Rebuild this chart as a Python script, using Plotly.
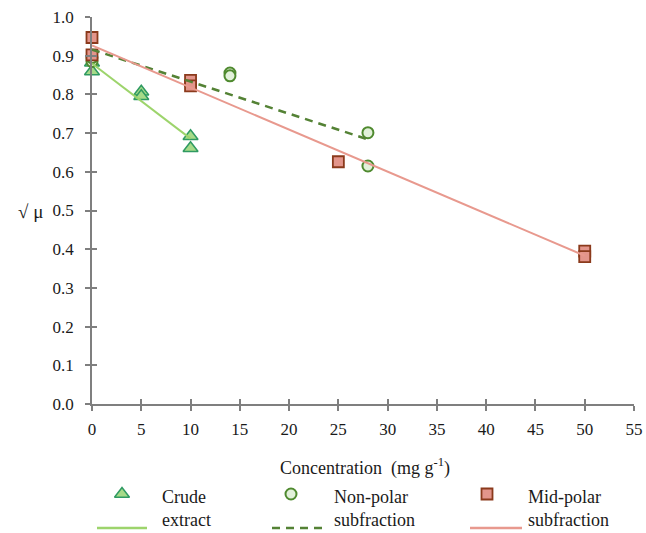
import numpy as np
import plotly.graph_objects as go

# ---- data ----
crude_x = [0, 0, 5, 5, 10, 10]
crude_y = [0.882, 0.859, 0.807, 0.795, 0.692, 0.661]
nonpolar_x = [0, 0, 14, 14, 28, 28]
nonpolar_y = [0.885, 0.895, 0.855, 0.848, 0.701, 0.615]
midpolar_x = [0, 0, 10, 10, 25, 50, 50]
midpolar_y = [0.947, 0.902, 0.836, 0.822, 0.626, 0.395, 0.381]
x_ticks = list(range(0, 56, 5))
y_ticks = [round(0.1 * i, 1) for i in range(11)]
series_names = ["Crude<br>extract", "Non-polar<br>subfraction", "Mid-polar<br>subfraction"]

W, H = 646, 533
FONT = "Liberation Serif"
TXT = "#1a1a1a"

C_CRUDE_FILL, C_CRUDE_EDGE, C_CRUDE_LINE = "#a6da88", "#2f9a62", "#9dd46c"
C_NP_FILL, C_NP_EDGE, C_NP_LINE = "#e2f1da", "#4f8a2f", "#548235"
C_MP_FILL, C_MP_EDGE, C_MP_LINE = "#e3958b", "#8b3a1c", "#e8998e"


def fit(xs, ys):
    m, b = np.polyfit(xs, ys, 1)
    xx = np.array([min(xs), max(xs)], dtype=float)
    return xx, m * xx + b


fig = go.Figure()

fig.add_trace(go.Scatter(x=crude_x, y=crude_y, mode="markers", cliponaxis=False,
                         marker=dict(symbol="triangle-up", size=13, color=C_CRUDE_FILL,
                                     line=dict(color=C_CRUDE_EDGE, width=1.5))))
fig.add_trace(go.Scatter(x=nonpolar_x, y=nonpolar_y, mode="markers", cliponaxis=False,
                         marker=dict(symbol="circle", size=11, color=C_NP_FILL,
                                     line=dict(color=C_NP_EDGE, width=2))))
fig.add_trace(go.Scatter(x=midpolar_x, y=midpolar_y, mode="markers", cliponaxis=False,
                         marker=dict(symbol="square", size=11, color=C_MP_FILL,
                                     line=dict(color=C_MP_EDGE, width=1.8))))

for xs, ys, col, dash, w in [(crude_x, crude_y, C_CRUDE_LINE, "solid", 2),
                             (nonpolar_x, nonpolar_y, C_NP_LINE, "8px,6px", 2.5),
                             (midpolar_x, midpolar_y, C_MP_LINE, "solid", 2)]:
    fx, fy = fit(xs, ys)
    fig.add_trace(go.Scatter(x=fx, y=fy, mode="lines", cliponaxis=False,
                             line=dict(color=col, width=w, dash=dash)))

fig.add_trace(go.Scatter(x=[0], y=[0], xaxis="x3", yaxis="y3", mode="markers",
                         marker=dict(opacity=0), hoverinfo="skip"))

leg_sym_x = [122, 291, 487]
leg_line_x = [(97, 147), (272, 322), (470, 522)]
leg_text_x = [160, 332, 526]
sym_y, line_y, text_y = 494, 528, 508

fig.add_trace(go.Scatter(x=[leg_sym_x[0]], y=[sym_y], xaxis="x2", yaxis="y2", mode="markers",
                         marker=dict(symbol="triangle-up", size=13, color=C_CRUDE_FILL,
                                     line=dict(color=C_CRUDE_EDGE, width=1.5))))
fig.add_trace(go.Scatter(x=[leg_sym_x[1]], y=[sym_y], xaxis="x2", yaxis="y2", mode="markers",
                         marker=dict(symbol="circle", size=11, color=C_NP_FILL,
                                     line=dict(color=C_NP_EDGE, width=2))))
fig.add_trace(go.Scatter(x=[leg_sym_x[2]], y=[sym_y], xaxis="x2", yaxis="y2", mode="markers",
                         marker=dict(symbol="square", size=11, color=C_MP_FILL,
                                     line=dict(color=C_MP_EDGE, width=1.8))))
for (x0, x1), col, dash, w in zip(leg_line_x, [C_CRUDE_LINE, C_NP_LINE, C_MP_LINE],
                                  ["solid", "8px,6px", "solid"], [2.5, 2.5, 2.5]):
    fig.add_trace(go.Scatter(x=[x0, x1], y=[line_y, line_y], xaxis="x2", yaxis="y2",
                             mode="lines", line=dict(color=col, width=w, dash=dash)))

annotations = []
for tx, name in zip(leg_text_x, series_names):
    annotations.append(dict(x=tx, y=text_y, xref="x2", yref="y2", text=name, showarrow=False,
                            xanchor="left", yanchor="middle", align="left",
                            font=dict(family=FONT, size=18, color=TXT)))
annotations.append(dict(x=365, y=467, xref="x2", yref="y2",
                        text="Concentration  (mg g<sup>-1</sup>)", showarrow=False,
                        xanchor="center", yanchor="middle",
                        font=dict(family=FONT, size=18, color=TXT)))
annotations.append(dict(x=30, y=211, xref="x2", yref="y2", text="√ μ", showarrow=False,
                        xanchor="center", yanchor="middle",
                        font=dict(family=FONT, size=19, color=TXT)))

L, R, T, B = 92, 634, 17, 404
xdom = [L / W, R / W]
ydom = [(H - B) / H, (H - T) / H]
axcol = "#7f7f7f"

fig.update_layout(
    template="none",
    width=W, height=H, margin=dict(l=0, r=0, t=0, b=0, pad=0), autosize=False,
    paper_bgcolor="white", plot_bgcolor="rgba(0,0,0,0)", showlegend=False,
    font=dict(family=FONT),
    annotations=annotations,
    xaxis=dict(domain=xdom, range=[0, 55], tickvals=x_ticks, ticks="outside", ticklen=5,
               tickwidth=1.5, tickcolor=axcol, showline=True, linecolor=axcol, linewidth=1.5,
               showgrid=False, zeroline=False, anchor="y", ticklabelstandoff=4,
               automargin=False, tickfont=dict(family=FONT, size=17, color=TXT)),
    yaxis=dict(domain=ydom, range=[0, 1.0], tickvals=y_ticks, tickformat=".1f",
               ticks="outside", ticklen=5, tickwidth=1.5, tickcolor=axcol, showline=True,
               linecolor=axcol, linewidth=1.5, showgrid=False, zeroline=False, anchor="x",
               ticklabelstandoff=8, automargin=False,
               tickfont=dict(family=FONT, size=17, color=TXT)),
    xaxis3=dict(domain=xdom, range=[0, 55], tickvals=x_ticks, ticks="inside", ticklen=5,
                tickwidth=1.5, tickcolor=axcol, showticklabels=False, showline=False,
                showgrid=False, zeroline=False, overlaying="x", anchor="y3", automargin=False),
    yaxis3=dict(domain=ydom, range=[0, 1.0], tickvals=y_ticks, ticks="inside", ticklen=5,
                tickwidth=1.5, tickcolor=axcol, showticklabels=False, showline=False,
                showgrid=False, zeroline=False, overlaying="y", anchor="x3", automargin=False),
    xaxis2=dict(domain=[0, 1], range=[0, W], visible=False, anchor="y2", automargin=False),
    yaxis2=dict(domain=[0, 1], range=[H, 0], visible=False, anchor="x2", automargin=False),
)

fig.write_html("out.html")
